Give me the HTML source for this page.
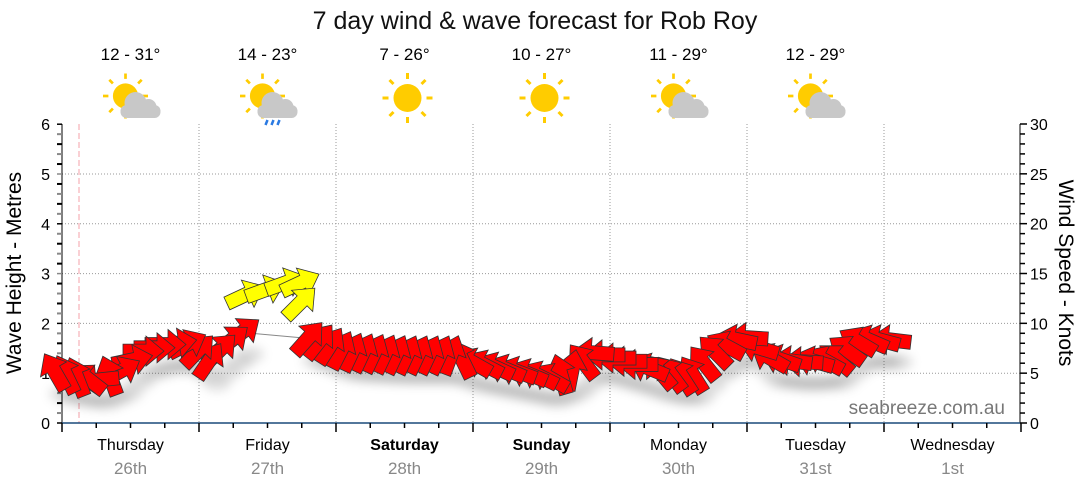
<!DOCTYPE html>
<html><head><meta charset="utf-8"><style>
html,body{margin:0;padding:0;background:#fff;}
svg{display:block;font-family:"Liberation Sans","DejaVu Sans",sans-serif;}
</style></head><body>
<svg id="s" width="1080" height="490" viewBox="0 0 1080 490" xmlns="http://www.w3.org/2000/svg">
<defs>
<filter id="sh" x="-20%" y="-20%" width="140%" height="160%"><feGaussianBlur stdDeviation="5"/></filter>
<g id="sun"><g stroke="#fc0" stroke-width="3"><line x1="0" y1="-25" x2="0" y2="-19"/><line x1="0" y1="25" x2="0" y2="19"/><line x1="-25" y1="0" x2="-19" y2="0"/><line x1="25" y1="0" x2="19" y2="0"/><line x1="-18" y1="-18" x2="-14" y2="-14"/><line x1="18" y1="-18" x2="14" y2="-14"/><line x1="-18" y1="18" x2="-14" y2="14"/><line x1="18" y1="18" x2="14" y2="14"/></g><circle r="14" fill="#fc0"/></g>
<g id="cloud" fill="#c8c8c8"><circle cx="-5" cy="2" r="11"/><circle cx="8" cy="6" r="8"/><rect x="-20" y="4" width="40" height="13" rx="6"/></g>
</defs>
<text x="535" y="29" font-size="25" text-anchor="middle" fill="#111">7 day wind &amp; wave forecast for Rob Roy</text>
<g id="g"></g>
</svg>
<script>
const g=document.getElementById('g');let h='';
const L=62,R=1020,B=423,T=124,D=137;
for(let i=1;i<=5;i++){const y=B-i*49.8;h+=`<line x1="${L}" y1="${y}" x2="${R}" y2="${y}" stroke="#999" stroke-dasharray="1,2"/>`;}
for(let i=1;i<=6;i++){const x=L+i*D;h+=`<line x1="${x}" y1="${T}" x2="${x}" y2="${B}" stroke="#999" stroke-dasharray="1,2"/>`;}
h+=`<line x1="79" y1="${T}" x2="79" y2="${B}" stroke="#f4a0a8" stroke-dasharray="6,3"/>`;
h+=`<line x1="${L}" y1="${T}" x2="${L}" y2="${B}" stroke="#000"/><line x1="${R}" y1="${T}" x2="${R}" y2="${B}" stroke="#000"/><line x1="${L}" y1="${B}" x2="${R}" y2="${B}" stroke="#1a4a7a" stroke-width="1.5"/>`;
for(let i=0;i<=30;i++){const y=B-i*49.8/5;const maj=i%5==0;
 h+=`<line x1="${L-5}" y1="${y}" x2="${L}" y2="${y}" stroke="${i%2?'#888':'#000'}" stroke-width="${maj?1.5:2}"/>`;
 if(maj)h+=`<text x="${L-12}" y="${y+6}" font-size="16" text-anchor="end">${i/5}</text>`;}
for(let i=0;i<=30;i++){const y=B-i*(299/30);
 h+=`<line x1="${R}" y1="${y}" x2="${R+(i%5?5:7)}" y2="${y}" stroke="#000" stroke-width="1.5"/>`;
 if(i%5==0)h+=`<text x="${R+10}" y="${y+6}" font-size="16">${i}</text>`;}
for(let i=0;i<=28;i++){const x=L+i*D/4;h+=`<line x1="${x}" y1="${B}" x2="${x}" y2="${B+(i%4?5:9)}" stroke="#000" stroke-width="1.5"/>`;}
const days=[["Thursday","26th"],["Friday","27th"],["Saturday","28th",1],["Sunday","29th",1],["Monday","30th"],["Tuesday","31st"],["Wednesday","1st"]];
const temps=["12 - 31°","14 - 23°","7 - 26°","10 - 27°","11 - 29°","12 - 29°"];
const ic=["pc","rain","sun","sun","pc","pc"];
days.forEach((d,i)=>{const x=L+D*(i+.5);
 h+=`<text x="${x}" y="450" font-size="16" text-anchor="middle" ${d[2]?'font-weight="bold"':''}>${d[0]}</text><text x="${x}" y="474" font-size="17" fill="#888" text-anchor="middle">${d[1]}</text>`;
 if(i<6){h+=`<text x="${x}" y="60" font-size="17" text-anchor="middle">${temps[i]}</text>`;
  if(ic[i]=='sun')h+=`<use href="#sun" x="${x+3}" y="98"/>`;
  else{h+=`<g transform="translate(${x-5},96) scale(.9)"><use href="#sun"/></g><use href="#cloud" x="${x+10}" y="101"/>`;
   if(ic[i]=='rain')h+=`<g stroke="#2a7ae2" stroke-width="2.5"><line x1="${x}" y1="120" x2="${x-2}" y2="125"/><line x1="${x+6}" y1="120" x2="${x+4}" y2="125"/><line x1="${x+12}" y1="120" x2="${x+10}" y2="125"/></g>`;}}
});
h+=`<text x="14" y="273" font-size="21" text-anchor="middle" transform="rotate(-90 14 273) translate(0 7)">Wave Height - Metres</text>`;
h+=`<text x="1066" y="273" font-size="21" text-anchor="middle" transform="rotate(90 1066 273) translate(0 7)">Wind Speed - Knots</text>`;
h+=`<text x="1005" y="414" font-size="19" fill="#777" text-anchor="end">seabreeze.com.au</text>`;
const K=[[55,372,-120],[80,378,-110],[100,380,170],[120,372,-30],[140,352,0],[170,343,0],[195,345,-40],[205,365,-60],[225,345,-40],[252,325,-35],[315,340,-50],[345,352,-65],[400,355,-65],[450,355,-65],[470,362,-150],[520,372,-160],[550,378,-150],[570,372,-70],[595,352,180],[640,365,180],[660,372,-130],[690,378,-120],[715,352,-135],[745,335,180],[770,358,-150],[800,362,180],[835,360,-140],[860,340,-150],[900,340,180]];
const Y=[[245,295,-25],[265,290,-20],[285,283,-20],[300,283,-25],[300,303,-45]];
function interp(x){for(let i=0;i<K.length-1;i++){const a=K[i],b=K[i+1];if(x>=a[0]&&x<=b[0]){const t=(x-a[0])/(b[0]-a[0]||1);let da=b[2]-a[2];if(da>180)da-=360;if(da<-180)da+=360;return[a[1]+(b[1]-a[1])*t,a[2]+da*t];}}return null;}
function arrow(x,y,a,fill){return `<g transform="translate(${x},${y}) rotate(${a})"><polygon points="-20,-7 3,-7 3,-15 21,0 3,15 3,7 -20,7" fill="${fill}" stroke="#333" stroke-width="0.8"/></g>`;}
let sh='',ar=[],pl=[];
for(let x=55;x<=905;x+=11){if(x>250&&x<305)continue;const r=interp(x);if(!r)continue;pl.push(x+','+r[0]);
 sh+=`<ellipse cx="${x+8}" cy="${r[0]+22}" rx="14" ry="8" fill="#000" opacity=".12"/>`;ar.push(arrow(x,r[0],r[1],'#f00'));}
ar.reverse();
let ya='';Y.forEach(p=>{ya+=arrow(p[0],p[1],p[2],'#ff0');});
h+=`<g filter="url(#sh)">${sh}</g><polyline points="${pl.join(' ')}" fill="none" stroke="#888"/>${ya}${ar.join('')}`;
g.innerHTML=h;
</script>
</body></html>
